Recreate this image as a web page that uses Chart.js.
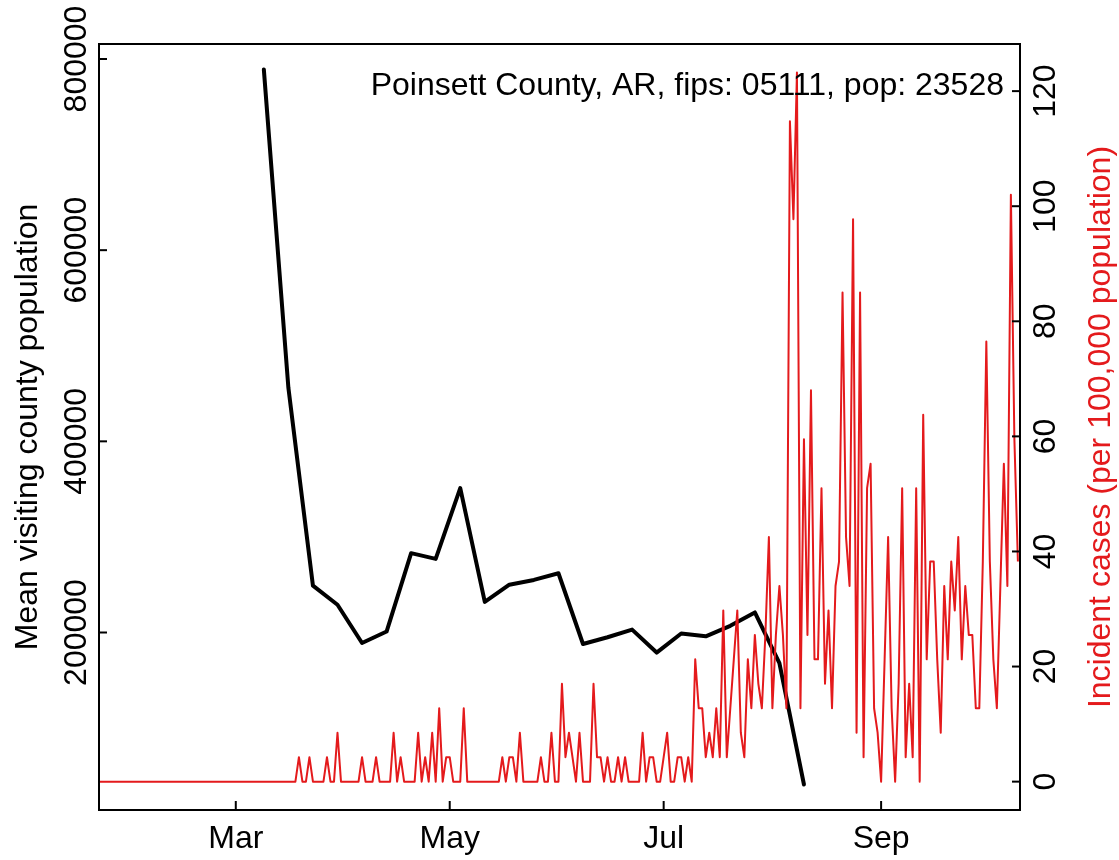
<!DOCTYPE html>
<html>
<head>
<meta charset="utf-8">
<script src="https://cdn.jsdelivr.net/npm/chart.js@4.4.0/dist/chart.umd.min.js"></script>
<style>
  html, body { margin: 0; padding: 0; background: #fff; }
  #wrap { width: 1119px; height: 860px; }
</style>
</head>
<body>
<div id="wrap"><canvas id="chart" width="1119" height="860"></canvas></div>
<script>
const countyLabel = 'Poinsett County, AR, fips: 05111, pop: 23528';
const leftTitle = 'Mean visiting county population';
const rightTitle = 'Incident cases (per 100,000 population)';

// weekly mean visiting county population
const visitDates = ['2020-03-09', '2020-03-16', '2020-03-23', '2020-03-30', '2020-04-06', '2020-04-13',
  '2020-04-20', '2020-04-27', '2020-05-04', '2020-05-11', '2020-05-18', '2020-05-25', '2020-06-01',
  '2020-06-08', '2020-06-15', '2020-06-22', '2020-06-29', '2020-07-06', '2020-07-13', '2020-07-20',
  '2020-07-27', '2020-08-03', '2020-08-10'];
const visitPop = [789000, 456000, 249000, 229000, 189000, 201000, 283000, 277000, 351000, 232000,
  250000, 255000, 262000, 188000, 195000, 203000, 179000, 199000, 196000, 207000, 221000, 168000, 41000];

// daily incident cases per 100,000, one value per day from caseStart
const caseStart = '2020-01-22';
const casesPer100k = [
  0, 0, 0, 0, 0, 0, 0, 0, 0, 0,
  0, 0, 0, 0, 0, 0, 0, 0, 0, 0,
  0, 0, 0, 0, 0, 0, 0, 0, 0, 0,
  0, 0, 0, 0, 0, 0, 0, 0, 0, 0,
  0, 0, 0, 0, 0, 0, 0, 0, 0, 0,
  0, 0, 0, 0, 0, 0, 0, 4.25, 0, 0,
  4.25, 0, 0, 0, 0, 4.25, 0, 0, 8.5, 0,
  0, 0, 0, 0, 0, 4.25, 0, 0, 0, 4.25,
  0, 0, 0, 0, 8.5, 0, 4.25, 0, 0, 0,
  0, 8.5, 0, 4.25, 0, 8.5, 0, 12.75, 0, 4.25,
  4.25, 0, 0, 0, 12.75, 0, 0, 0, 0, 0,
  0, 0, 0, 0, 0, 4.25, 0, 4.25, 4.25, 0,
  8.5, 0, 0, 0, 0, 0, 4.25, 0, 0, 8.5,
  0, 0, 17, 4.25, 8.5, 4.25, 0, 8.5, 0, 0,
  0, 17, 4.25, 4.25, 0, 4.25, 0, 0, 4.25, 0,
  4.25, 0, 0, 0, 0, 8.5, 0, 4.25, 4.25, 0,
  0, 4.25, 8.5, 0, 0, 4.25, 4.25, 0, 4.25, 0,
  21.25, 12.75, 12.75, 4.25, 8.5, 4.25, 12.75, 4.25, 29.75, 4.25,
  12.75, 21.25, 29.75, 8.5, 4.25, 21.25, 12.75, 25.5, 17, 12.75,
  25.5, 42.5, 12.75, 25.5, 34, 25.5, 12.75, 114.75, 97.75, 123.25,
  12.75, 59.5, 25.5, 68, 21.25, 21.25, 51, 17, 29.75, 12.75,
  34, 38.25, 85, 42.5, 34, 97.75, 8.5, 85, 4.25, 51,
  55.25, 12.75, 8.5, 0, 21.25, 42.5, 12.75, 0, 17, 51,
  4.25, 17, 4.25, 51, 0, 63.75, 21.25, 38.25, 38.25, 21.25,
  8.5, 34, 21.25, 38.25, 29.75, 42.5, 21.25, 34, 25.5, 25.5,
  12.75, 12.75, 38.25, 76.5, 38.25, 21.25, 12.75, 34, 55.25, 34,
  102, 59.5, 38.25
];

const tickDates = ['2020-03-01', '2020-05-01', '2020-07-01', '2020-09-01'];
const tickMonths = ['Mar', 'May', 'Jul', 'Sep'];
const popTicks = [200000, 400000, 600000, 800000];
const caseTicks = [0, 20, 40, 60, 80, 100, 120];

// days since 2020-01-01
function dayOf(s) {
  const p = s.split('-').map(Number);
  return (Date.UTC(p[0], p[1] - 1, p[2]) - Date.UTC(2020, 0, 1)) / 86400000;
}

const startDay = dayOf(caseStart);
const caseData = casesPer100k.map((v, i) => ({ x: startDay + i, y: v }));
const visitData = visitPop.map((v, i) => ({ x: dayOf(visitDates[i]), y: v }));

const FONT = '32px "Liberation Sans", Arial, Helvetica, sans-serif';

const baseAxes = {
  id: 'baseAxes',
  afterDraw(chart) {
    const c = chart.ctx;
    const a = chart.chartArea;
    const xs = chart.scales.x, yl = chart.scales.yPop, yr = chart.scales.yCases;
    c.save();
    c.strokeStyle = '#000';
    c.lineWidth = 2;
    c.strokeRect(a.left, a.top, a.right - a.left, a.bottom - a.top);
    c.fillStyle = '#000';
    c.font = FONT;

    // bottom axis
    c.textAlign = 'center';
    c.textBaseline = 'alphabetic';
    tickDates.forEach((d, i) => {
      const px = xs.getPixelForValue(dayOf(d));
      c.beginPath(); c.moveTo(px, a.bottom); c.lineTo(px, a.bottom - 9); c.stroke();
      c.fillText(tickMonths[i], px, 848);
    });

    // left axis
    popTicks.forEach(v => {
      const py = yl.getPixelForValue(v);
      c.beginPath(); c.moveTo(a.left, py); c.lineTo(a.left + 8, py); c.stroke();
      c.save(); c.translate(86, py); c.rotate(-Math.PI / 2); c.fillText(String(v), 0, 0); c.restore();
    });

    // right axis
    caseTicks.forEach(v => {
      const py = yr.getPixelForValue(v);
      c.beginPath(); c.moveTo(a.right, py); c.lineTo(a.right - 8, py); c.stroke();
      c.save(); c.translate(1055, py); c.rotate(-Math.PI / 2); c.fillText(String(v), 0, 0); c.restore();
    });

    const midY = (a.top + a.bottom) / 2;
    c.save(); c.translate(37, midY); c.rotate(-Math.PI / 2); c.fillText(leftTitle, 0, 0); c.restore();
    c.fillStyle = '#E41A1C';
    c.save(); c.translate(1110, midY); c.rotate(-Math.PI / 2); c.fillText(rightTitle, 0, 0); c.restore();

    c.fillStyle = '#000';
    c.textAlign = 'right';
    c.fillText(countyLabel, 1004, 95);
    c.restore();
  }
};

const ctx = document.getElementById('chart').getContext('2d');

new Chart(ctx, {
  type: 'line',
  data: {
    datasets: [
      {
        label: rightTitle,
        data: caseData,
        yAxisID: 'yCases',
        borderColor: '#E41A1C',
        borderWidth: 2,
        pointRadius: 0,
        tension: 0,
        fill: false,
        borderJoinStyle: 'round'
      },
      {
        label: leftTitle,
        data: visitData,
        yAxisID: 'yPop',
        borderColor: '#000000',
        borderWidth: 4,
        pointRadius: 0,
        tension: 0,
        fill: false,
        borderJoinStyle: 'round',
        borderCapStyle: 'round'
      }
    ]
  },
  options: {
    responsive: false,
    animation: false,
    devicePixelRatio: 1,
    layout: { padding: { top: 44, left: 0, right: 0, bottom: 0 } },
    plugins: {
      legend: { display: false },
      tooltip: { enabled: false }
    },
    scales: {
      x: {
        type: 'linear',
        min: 21,
        max: 283.6,
        grid: { display: false },
        border: { display: false },
        ticks: { display: false },
        afterFit: s => { s.height = 50; }
      },
      yPop: {
        position: 'left',
        min: 14300,
        max: 815700,
        grid: { display: false },
        border: { display: false },
        ticks: { display: false },
        afterFit: s => { s.width = 99; }
      },
      yCases: {
        position: 'right',
        min: -4.93,
        max: 128.19,
        grid: { display: false },
        border: { display: false },
        ticks: { display: false },
        afterFit: s => { s.width = 99; }
      }
    }
  },
  plugins: [baseAxes]
});
</script>
</body>
</html>
